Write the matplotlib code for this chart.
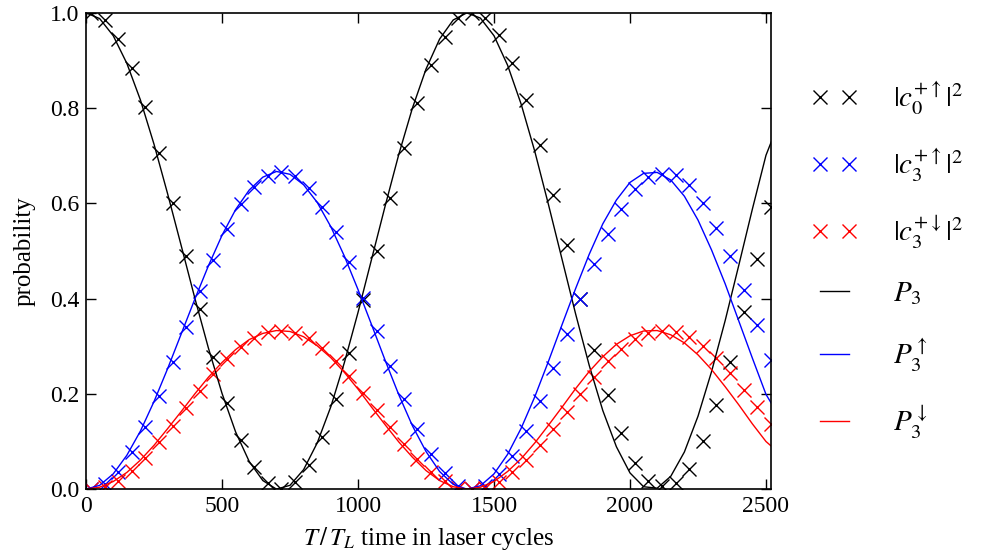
import matplotlib
matplotlib.use("Agg")
import matplotlib.pyplot as plt

plt.rcParams['font.family'] = ['Liberation Serif', 'DejaVu Serif']
plt.rcParams['mathtext.fontset'] = 'stix'

# 采样点（激光周期）
t_marks = [18 + 50 * k for k in range(51)]
t_line = [0, 50, 100, 150, 200, 250, 300, 350, 400, 450, 500, 550, 600, 650, 700,
          750, 800, 850, 900, 950, 1000, 1050, 1100, 1150, 1200, 1250, 1300, 1350, 1400,
          1450, 1500, 1550, 1600, 1650, 1700, 1750, 1800, 1850, 1900, 1950, 2000, 2050,
          2100, 2150, 2200, 2250, 2300, 2350, 2400, 2450, 2500, 2520]

# 数值模拟 |c|^2
c0_up = [1.00, 0.985, 0.945, 0.884, 0.803, 0.706, 0.601, 0.49, 0.378, 0.278, 0.18,
         0.103, 0.047, 0.013, 0.001, 0.015, 0.05, 0.11, 0.19, 0.286, 0.397, 0.50,
         0.611, 0.716, 0.811, 0.89, 0.95, 0.99, 1.00, 0.99, 0.954, 0.895, 0.817,
         0.723, 0.618, 0.513, 0.40, 0.292, 0.197, 0.117, 0.055, 0.018, 0.007, 0.012,
         0.043, 0.10, 0.176, 0.267, 0.372, 0.483, 0.593]
c3_up = [0.000, 0.010, 0.037, 0.077, 0.131, 0.196, 0.266, 0.340, 0.415, 0.481, 0.547,
         0.598, 0.635, 0.658, 0.666, 0.657, 0.633, 0.593, 0.540, 0.476, 0.402, 0.333,
         0.259, 0.189, 0.126, 0.073, 0.033, 0.007, 0.000, 0.007, 0.031, 0.070, 0.122,
         0.185, 0.255, 0.325, 0.400, 0.472, 0.535, 0.589, 0.630, 0.655, 0.662, 0.659,
         0.638, 0.600, 0.549, 0.489, 0.419, 0.345, 0.271]
c3_down = [0.000, 0.005, 0.018, 0.039, 0.066, 0.098, 0.133, 0.170, 0.207, 0.241, 0.273,
           0.299, 0.318, 0.329, 0.333, 0.328, 0.317, 0.297, 0.270, 0.238, 0.201, 0.167,
           0.130, 0.095, 0.063, 0.037, 0.017, 0.003, 0.000, 0.003, 0.015, 0.035, 0.061,
           0.092, 0.127, 0.162, 0.200, 0.236, 0.268, 0.294, 0.315, 0.327, 0.331, 0.329,
           0.319, 0.300, 0.275, 0.244, 0.209, 0.172, 0.136]

# 解析结果 P
p3 = [1.000, 0.988, 0.952, 0.894, 0.817, 0.724, 0.620, 0.511, 0.401, 0.296, 0.201,
      0.120, 0.058, 0.018, 0.000, 0.008, 0.041, 0.097, 0.173, 0.266, 0.371, 0.483,
      0.595, 0.703, 0.800, 0.882, 0.945, 0.985, 1.000, 0.989, 0.952, 0.890, 0.808,
      0.709, 0.598, 0.483, 0.368, 0.260, 0.165, 0.089, 0.034, 0.005, 0.002, 0.027,
      0.078, 0.153, 0.247, 0.354, 0.470, 0.588, 0.701, 0.730]
p3_up = [0.000, 0.008, 0.032, 0.071, 0.122, 0.184, 0.253, 0.326, 0.399, 0.469, 0.533,
         0.587, 0.628, 0.655, 0.667, 0.661, 0.639, 0.602, 0.551, 0.489, 0.419, 0.345,
         0.270, 0.198, 0.133, 0.079, 0.037, 0.010, 0.000, 0.007, 0.032, 0.073, 0.128,
         0.194, 0.268, 0.345, 0.421, 0.493, 0.557, 0.607, 0.644, 0.663, 0.665, 0.649,
         0.615, 0.565, 0.502, 0.431, 0.353, 0.275, 0.199, 0.180]
p3_down = [0.000, 0.004, 0.016, 0.035, 0.061, 0.092, 0.127, 0.163, 0.200, 0.235, 0.266,
           0.293, 0.314, 0.327, 0.333, 0.331, 0.320, 0.301, 0.276, 0.245, 0.210, 0.172,
           0.135, 0.099, 0.067, 0.039, 0.018, 0.005, 0.000, 0.004, 0.016, 0.037, 0.064,
           0.097, 0.134, 0.172, 0.211, 0.247, 0.278, 0.304, 0.322, 0.332, 0.333, 0.324,
           0.307, 0.282, 0.251, 0.215, 0.177, 0.137, 0.100, 0.090]

fig = plt.figure(figsize=(9.89, 5.59), dpi=100)
ax = fig.add_axes([0.087, 0.125, 0.693, 0.852])

mk = dict(linestyle='none', marker='x', markersize=9.5, markeredgewidth=1.0)
ax.plot(t_marks, c0_up, color='k', label=r'$|c_0^{+\uparrow}|^2$', **mk)
ax.plot(t_marks, c3_up, color='b', label=r'$|c_3^{+\uparrow}|^2$', **mk)
ax.plot(t_marks, c3_down, color='r', label=r'$|c_3^{+\downarrow}|^2$', **mk)
ax.plot(t_line, p3, color='k', lw=1.0, label=r'$P_3$')
ax.plot(t_line, p3_up, color='b', lw=1.0, label=r'$P_3^{\uparrow}$')
ax.plot(t_line, p3_down, color='r', lw=1.0, label=r'$P_3^{\downarrow}$')

ax.set_xlim(0, 2520)
ax.set_ylim(0, 1.0)
ax.set_xticks([0, 500, 1000, 1500, 2000, 2500])
ax.set_yticks([0.0, 0.2, 0.4, 0.6, 0.8, 1.0])
ax.set_yticklabels(['0.0', '0.2', '0.4', '0.6', '0.8', '1.0'])
ax.tick_params(direction='in', length=7, width=1, top=True, right=True, labelsize=17, pad=5)
for s in ax.spines.values():
    s.set_linewidth(1.2)

ax.set_xlabel(r'$T\,/\,T_L$ time in laser cycles', fontsize=18, labelpad=6)
ax.set_ylabel('probability', fontsize=18, labelpad=10)

ax.legend(loc='upper left', bbox_to_anchor=(1.02, 0.915), frameon=False, numpoints=2,
          fontsize=21, handlelength=1.6, handletextpad=1.2, labelspacing=1.0)

fig.savefig('out.png', dpi=100)
